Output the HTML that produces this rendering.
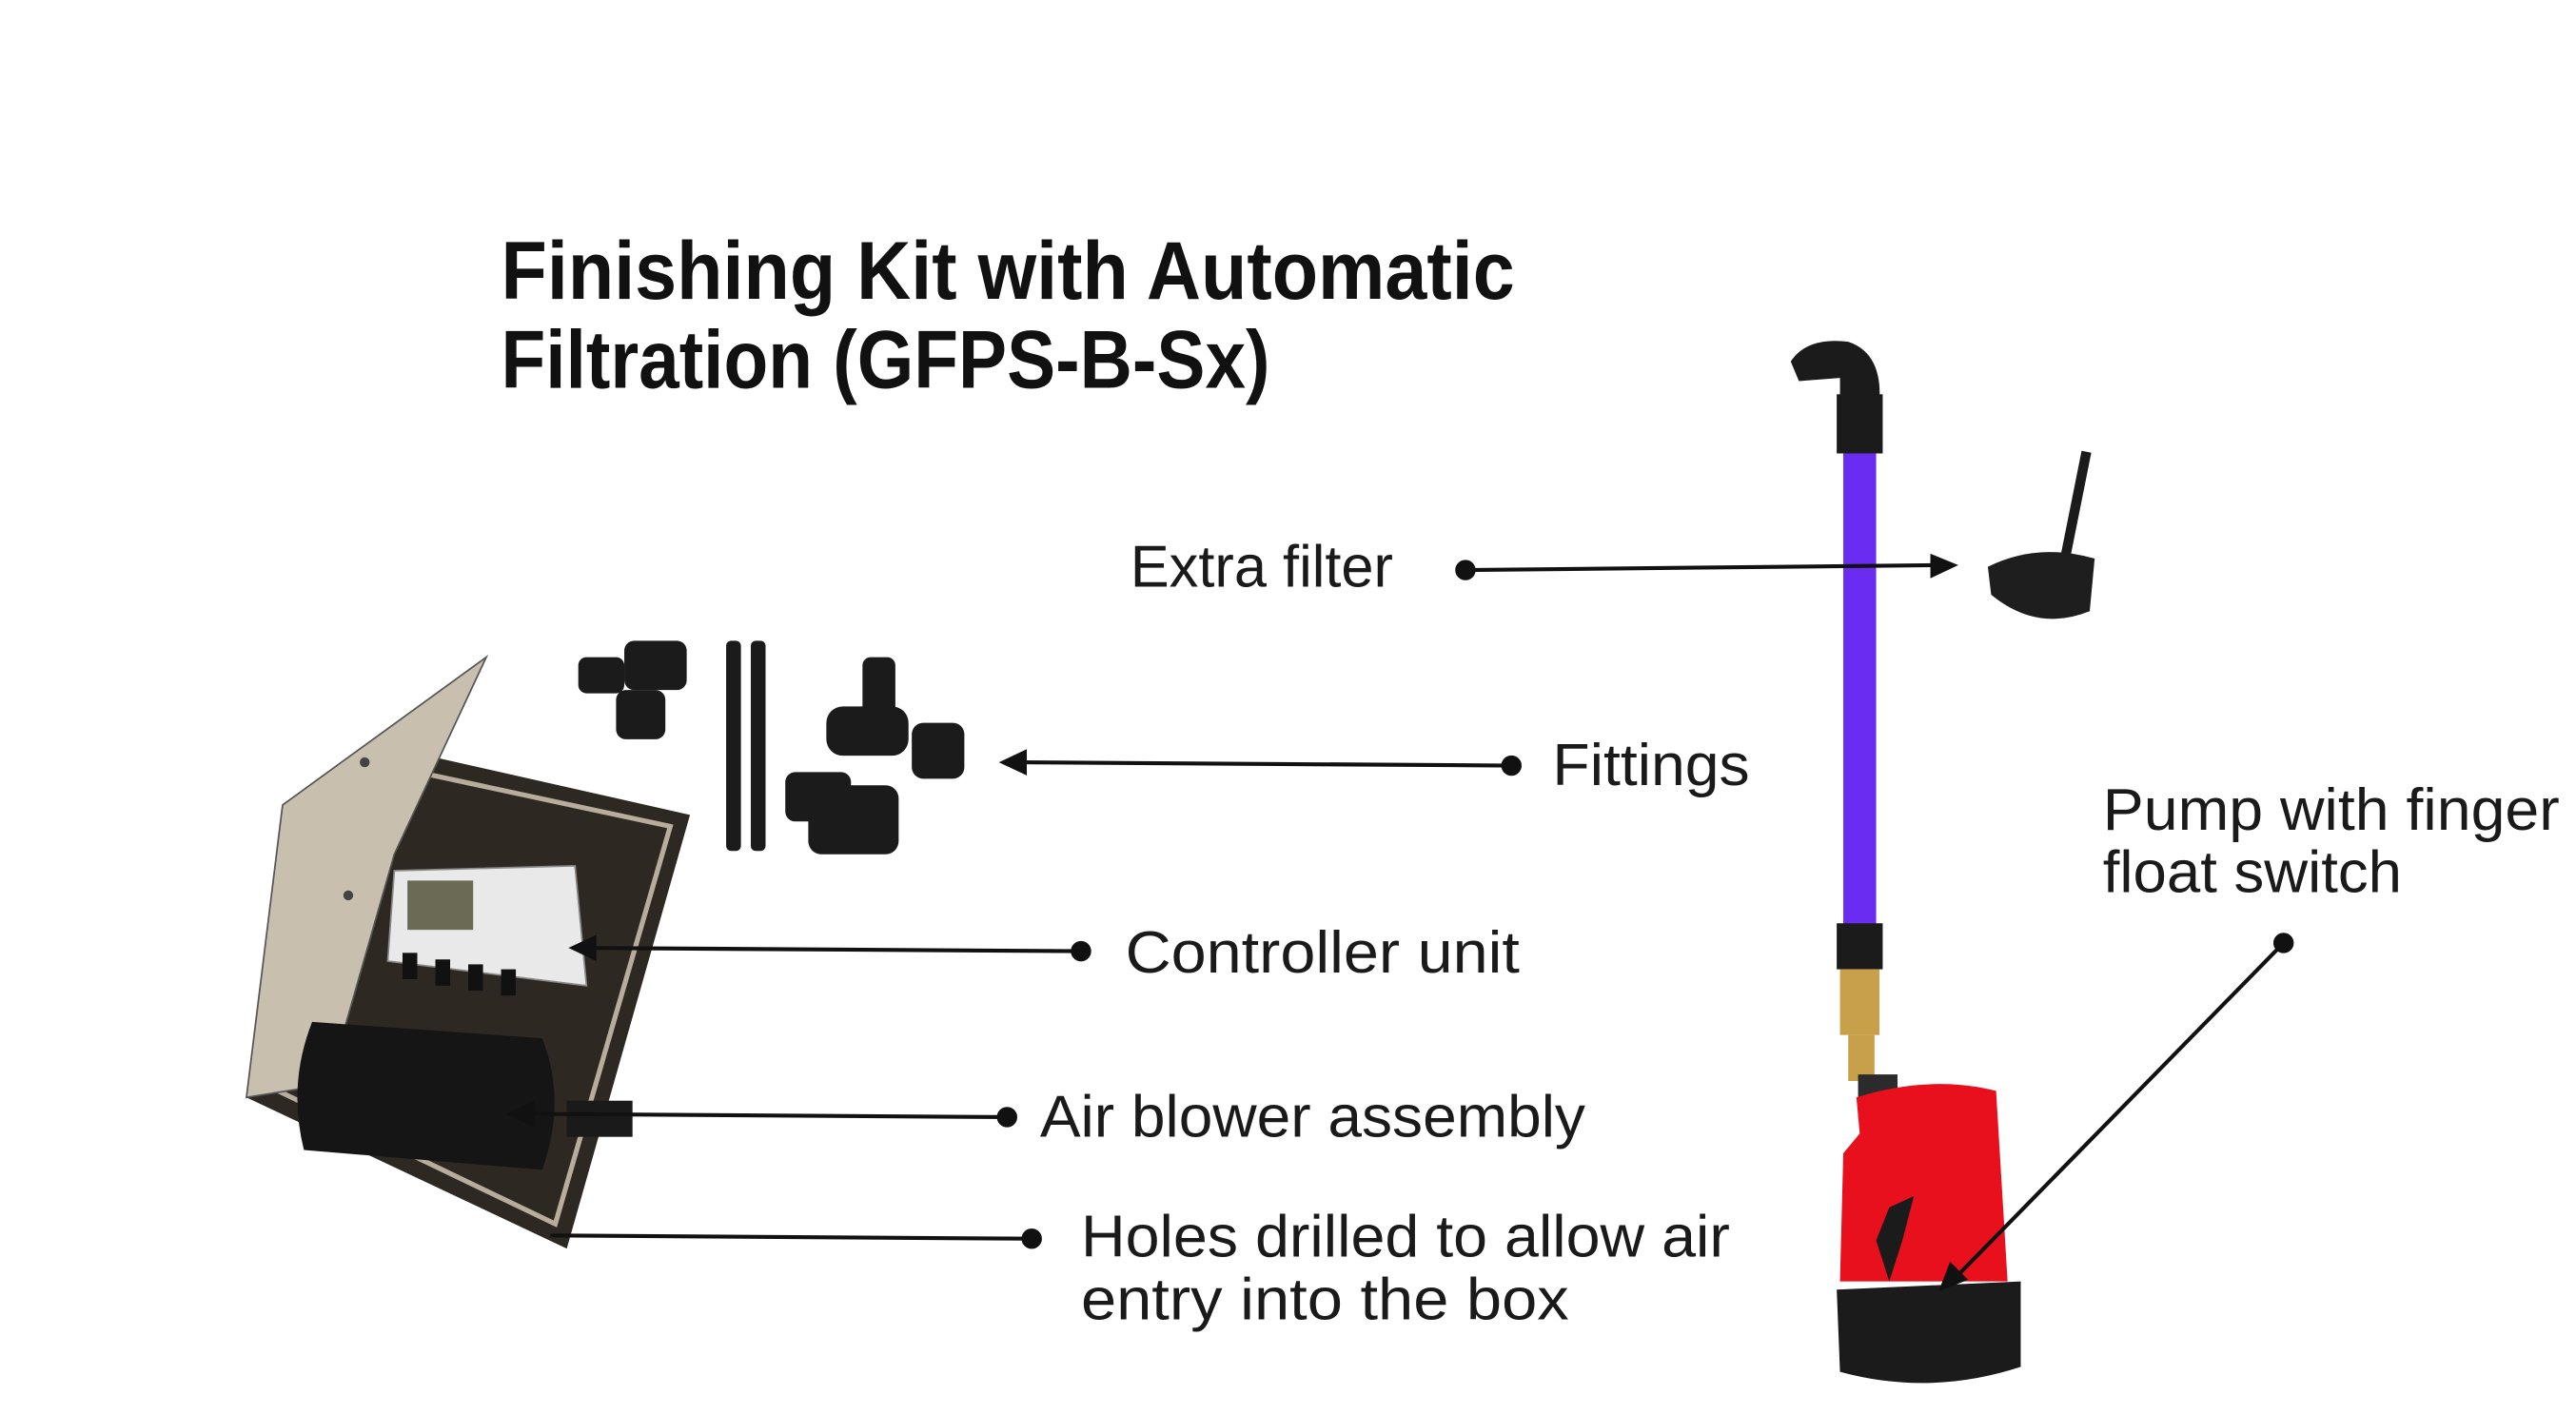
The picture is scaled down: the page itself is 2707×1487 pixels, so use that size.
<!DOCTYPE html>
<html><head><meta charset="utf-8"><style>html,body{margin:0;padding:0;background:#fff}svg{display:block}</style></head>
<body>
<svg width="2707" height="1487" viewBox="0 0 1568 861.3" xmlns="http://www.w3.org/2000/svg" font-family="Liberation Sans, sans-serif">
<rect width="1568" height="862" fill="#fff"/>
<!-- title -->
<text x="305" y="182" font-size="50" font-weight="bold" textLength="617" lengthAdjust="spacingAndGlyphs" fill="#111">Finishing Kit with Automatic</text>
<text x="305" y="236" font-size="50" font-weight="bold" textLength="468" lengthAdjust="spacingAndGlyphs" fill="#111">Filtration (GFPS-B-Sx)</text>

<!-- box -->
<polygon points="150,668 238,455 420,496 345,760" fill="#2e2823"/>
<polygon points="165,662 245,468 408,503 338,745" fill="none" stroke="#b8ad9c" stroke-width="3"/>
<polygon points="150,668 172,490 296,400 240,520 200,660" fill="#c9bfae" stroke="#555" stroke-width="1"/>
<circle cx="222" cy="464" r="3" fill="#444"/><circle cx="212" cy="545" r="3" fill="#444"/>
<polygon points="240,530 350,527 357,600 236,585" fill="#e9e9ea" stroke="#888"/>
<rect x="248" y="536" width="40" height="30" fill="#6a6a55"/>
<g fill="#111"><rect x="245" y="580" width="9" height="16"/><rect x="265" y="584" width="9" height="16"/><rect x="285" y="587" width="9" height="16"/><rect x="305" y="590" width="9" height="16"/></g>
<path d="M190,622 L330,632 Q345,670 330,712 L185,700 Q175,660 190,622Z" fill="#151515"/>
<rect x="345" y="670" width="40" height="22" fill="#1a1a1a"/>

<!-- fittings -->
<g fill="#1b1b1b">
<rect x="352" y="400" width="28" height="22" rx="5"/><rect x="380" y="390" width="38" height="30" rx="6"/>
<rect x="375" y="420" width="30" height="30" rx="6"/>
<rect x="442" y="390" width="9" height="128" rx="3"/><rect x="457" y="390" width="9" height="128" rx="3"/>
<rect x="525" y="400" width="20" height="40" rx="5"/><rect x="503" y="430" width="50" height="30" rx="10"/>
<rect x="555" y="440" width="32" height="34" rx="7"/>
<rect x="478" y="470" width="40" height="30" rx="6"/><rect x="492" y="478" width="55" height="42" rx="8"/>
</g>

<!-- pump assembly -->
<path d="M1090,220 Q1100,205 1125,208 Q1146,215 1144,245 L1120,245 L1120,230 L1095,232Z" fill="#1b1b1b"/>
<rect x="1118" y="240" width="28" height="36" fill="#1b1b1b"/>
<rect x="1122" y="276" width="20" height="290" fill="#6a2cf0"/>
<rect x="1118" y="562" width="28" height="28" fill="#1b1b1b"/>
<rect x="1120" y="590" width="24" height="40" fill="#c9a04a"/>
<rect x="1125" y="630" width="16" height="28" fill="#c9a04a"/>
<rect x="1131" y="654" width="24" height="15" fill="#2b2b2b"/>
<path d="M1120,780 L1122,702 L1132,690 L1130,668 Q1175,654 1215,664 L1222,780Z" fill="#e8101c"/>
<path d="M1118,785 L1230,780 L1230,832 Q1175,850 1120,835Z" fill="#1b1b1b"/>
<path d="M1142,755 L1150,735 L1165,728 L1158,755 L1150,780Z" fill="#1b1b1b"/>
<!-- filter -->
<line x1="1270" y1="275" x2="1257" y2="340" stroke="#1b1b1b" stroke-width="6"/>
<path d="M1210,345 Q1240,330 1275,340 L1272,372 Q1240,385 1212,362Z" fill="#1e1e1e"/>

<!-- connectors -->
<g stroke="#111" stroke-width="2.4" fill="#111">
<line x1="892" y1="347" x2="1180" y2="344"/><polygon points="1192,344 1175,337 1175,352" stroke="none"/><circle cx="892" cy="347" r="5"/>
<line x1="920" y1="466" x2="620" y2="464"/><polygon points="608,464 625,456 625,472" stroke="none"/><circle cx="920" cy="466" r="5"/>
<line x1="658" y1="579" x2="358" y2="577"/><polygon points="346,577 363,569 363,585" stroke="none"/><circle cx="658" cy="579" r="5"/>
<line x1="613" y1="680" x2="320" y2="678"/><polygon points="308,678 325,670 325,686" stroke="none"/><circle cx="613" cy="680" r="5"/>
<line x1="628" y1="754" x2="335" y2="752"/><circle cx="628" cy="754" r="5"/>
<line x1="1390" y1="574" x2="1190" y2="778"/><polygon points="1180,786 1187,768 1198,779" stroke="none"/><circle cx="1390" cy="574" r="5"/>
</g>

<!-- labels -->
<g fill="#1a1a1a" font-size="36">
<text x="688" y="357" textLength="160" lengthAdjust="spacingAndGlyphs">Extra filter</text>
<text x="945" y="478" textLength="120" lengthAdjust="spacingAndGlyphs">Fittings</text>
<text x="685" y="592" textLength="240" lengthAdjust="spacingAndGlyphs">Controller unit</text>
<text x="633" y="692" textLength="332" lengthAdjust="spacingAndGlyphs">Air blower assembly</text>
<text x="658" y="765" textLength="395" lengthAdjust="spacingAndGlyphs">Holes drilled to allow air</text>
<text x="658" y="803" textLength="297" lengthAdjust="spacingAndGlyphs">entry into the box</text>
<text x="1280" y="505" textLength="278" lengthAdjust="spacingAndGlyphs">Pump with finger</text>
<text x="1280" y="543" textLength="182" lengthAdjust="spacingAndGlyphs">float switch</text>
</g>
</svg>
</body></html>
